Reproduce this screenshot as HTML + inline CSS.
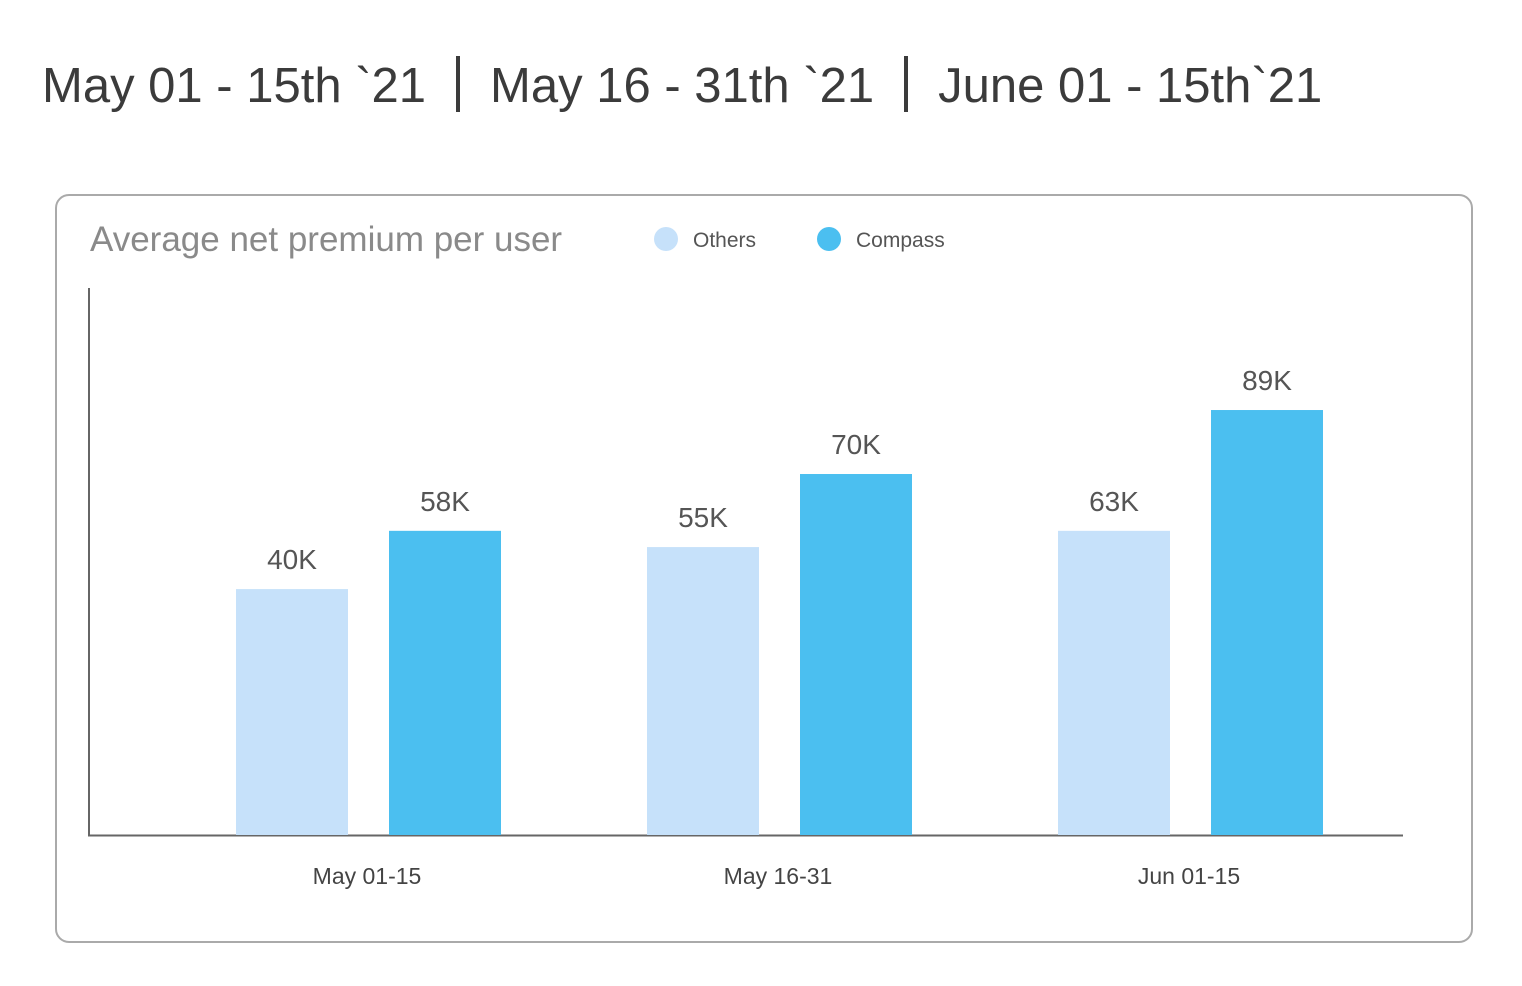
<!DOCTYPE html>
<html><head><meta charset="utf-8">
<style>
body{margin:0;width:1522px;height:986px;background:#fff;font-family:"Liberation Sans",sans-serif;overflow:hidden;position:relative}
#hdr{position:absolute;left:42px;top:56px;font-size:49px;color:#3b3b3b;white-space:nowrap}
.sep{display:inline-block;width:4px;height:56px;background:#3b3b3b;vertical-align:-10px;margin:0 30px}
#card{position:absolute;left:55px;top:194px;width:1414px;height:745px;border:2px solid #aaa;border-radius:14px}
</style></head><body>
<div id="hdr"><span>May 01 - 15th `21</span><span class="sep"></span><span>May 16 - 31th `21</span><span class="sep"></span><span>June 01 - 15th`21</span></div>
<div id="card"></div>
<svg id="chart" width="1522" height="986" style="position:absolute;left:0;top:0">
<text x="90" y="251" font-size="35" fill="#8a8a8a">Average net premium per user</text>
<g><circle cx="666" cy="239" r="12" fill="#c6e1fa"/><text x="693" y="247" font-size="21" fill="#555">Others</text></g>
<g><circle cx="829" cy="239" r="12" fill="#4bbff0"/><text x="856" y="247" font-size="21" fill="#555">Compass</text></g>
<line x1="89" y1="288" x2="89" y2="836" stroke="#666" stroke-width="2"/>
<line x1="88" y1="835.5" x2="1403" y2="835.5" stroke="#666" stroke-width="2"/>
<g id="bars"></g>
</svg>
<script>
const categories=["May 01-15","May 16-31","Jun 01-15"];
const othersValues=[51.5,60.3,63.7];
const compassValues=[63.7,75.6,89];
const othersLabels=["40K","55K","63K"];
const compassLabels=["58K","70K","89K"];
const baseY=835, pxPerUnit=4.775;
function y(v){return baseY-v*pxPerUnit;}
function groupX(i){return 236+i*411;}
const NS="http://www.w3.org/2000/svg";
const g=document.getElementById('bars');
function mk(tag,attrs){const e=document.createElementNS(NS,tag);for(const k in attrs)e.setAttribute(k,attrs[k]);g.appendChild(e);return e;}
categories.forEach((c,i)=>{
  const x0=groupX(i);
  const r1=mk('rect',{x:x0,y:y(othersValues[i]),width:112,height:baseY-y(othersValues[i]),fill:'#c6e1fa'});
  
  
  const r2=mk('rect',{x:x0+153,y:y(compassValues[i]),width:112,height:baseY-y(compassValues[i]),fill:'#4bbff0'});
  
  
  const t1=mk('text',{x:x0+56,y:y(othersValues[i])-20,'font-size':28,fill:'#555','text-anchor':'middle'});
  t1.textContent=othersLabels[i];
  
  
  const t2=mk('text',{x:x0+209,y:y(compassValues[i])-20,'font-size':28,fill:'#555','text-anchor':'middle'});
  t2.textContent=compassLabels[i];
  
  
  const t3=mk('text',{x:x0+131,y:884,'font-size':23,fill:'#444','text-anchor':'middle'});
  t3.textContent=c;
  
  
});
</script>
</body></html>
